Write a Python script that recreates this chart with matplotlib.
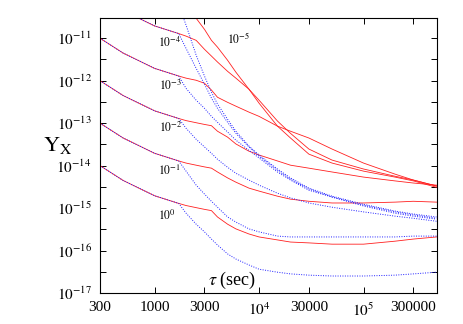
import numpy as np
from matplotlib import pyplot as plt
from matplotlib.ticker import FixedLocator, FixedFormatter, NullFormatter

plt.rcParams['font.family'] = ['Liberation Serif', 'DejaVu Serif']
plt.rcParams['mathtext.fontset'] = 'stix'

# averaging time (sec)
tau = np.array([300, 500, 1000, 1700, 2000, 2500, 3000, 3500, 4000, 5000, 6000, 8000,
                1e4, 1.5e4, 2e4, 3e4, 5e4, 1e5, 2e5, 3e5, 5e5])

# log10 of Y_x, one array per parameter value
red_0 = [-14.00, -14.35, -14.71, -14.89, -14.94, -14.99, -15.03, -15.06, -15.21, -15.38, -15.49, -15.61,
         -15.68, -15.75, -15.80, -15.82, -15.85, -15.85, -15.78, -15.73, -15.68]
blue_0 = [-14.00, -14.35, -14.71, -14.89, -15.12, -15.38, -15.56, -15.73, -15.87, -16.08, -16.20, -16.34,
          -16.44, -16.51, -16.55, -16.58, -16.60, -16.60, -16.58, -16.55, -16.51]
red_1 = [-13.00, -13.35, -13.71, -13.89, -13.94, -13.99, -14.03, -14.06, -14.15, -14.29, -14.39, -14.53,
         -14.60, -14.72, -14.79, -14.84, -14.88, -14.88, -14.86, -14.84, -14.86]
blue_1 = [-13.00, -13.35, -13.71, -13.89, -14.13, -14.46, -14.67, -14.84, -14.98, -15.21, -15.33, -15.49,
          -15.56, -15.66, -15.68, -15.68, -15.68, -15.68, -15.68, -15.66, -15.66]
red_2 = [-12.00, -12.35, -12.71, -12.89, -12.94, -12.99, -13.03, -13.06, -13.19, -13.33, -13.49, -13.66,
         -13.75, -13.89, -13.99, -14.06, -14.15, -14.27, -14.36, -14.41, -14.46]
blue_2 = [-12.00, -12.35, -12.71, -12.89, -13.12, -13.38, -13.56, -13.71, -13.85, -14.04, -14.18, -14.34,
          -14.46, -14.65, -14.76, -14.88, -14.98, -15.09, -15.19, -15.24, -15.31]
red_3 = [-11.00, -11.35, -11.71, -11.89, -11.94, -11.99, -12.06, -12.22, -12.39, -12.51, -12.60, -12.74,
         -12.84, -13.07, -13.19, -13.35, -13.61, -13.94, -14.20, -14.34, -14.48]
blue_3 = [-11.00, -11.35, -11.71, -11.89, -12.18, -12.46, -12.65, -12.84, -12.98, -13.21, -13.40, -13.64,
          -13.82, -14.15, -14.34, -14.58, -14.74, -14.95, -15.12, -15.19, -15.26]
red_4 = [-10.00, -10.35, -10.71, -10.89, -10.95, -11.05, -11.26, -11.42, -11.56, -11.78, -11.94, -12.20,
         -12.46, -12.95, -13.24, -13.61, -13.87, -14.08, -14.25, -14.34, -14.48]
blue_4 = [-10.00, -10.35, -10.71, -10.89, -11.24, -11.71, -12.08, -12.41, -12.65, -12.98, -13.24, -13.56,
          -13.78, -14.11, -14.32, -14.55, -14.74, -14.93, -15.09, -15.16, -15.24]
red_5 = [-9.00, -9.35, -9.71, -9.89, -10.22, -10.53, -10.79, -11.05, -11.21, -11.52, -11.80, -12.20,
         -12.53, -13.07, -13.35, -13.73, -13.94, -14.13, -14.27, -14.36, -14.51]
blue_5 = [-9.00, -9.35, -9.71, -10.22, -10.69, -11.40, -11.89, -12.27, -12.55, -12.91, -13.19, -13.54,
          -13.75, -14.08, -14.29, -14.53, -14.72, -14.91, -15.07, -15.14, -15.21]

reds = [red_0, red_1, red_2, red_3, red_4, red_5]
blues = [blue_0, blue_1, blue_2, blue_3, blue_4, blue_5]
labels = [r'$10^{0}$', r'$10^{-1}$', r'$10^{-2}$', r'$10^{-3}$', r'$10^{-4}$', r'$10^{-5}$']
label_pos = [(0.200, 0.280), (0.206, 0.444), (0.209, 0.600), (0.209, 0.753), (0.206, 0.909), (0.412, 0.924)]

xticks = [300, 1000, 3000, 1e4, 3e4, 1e5, 3e5]
xticklabels = ['300', '1000', '3000', r'$10^{4}$', '30000', r'$10^{5}$', '300000']
yticks = [1e-17, 1e-16, 1e-15, 1e-14, 1e-13, 1e-12, 1e-11]
yticklabels = [r'$10^{-17}$', r'$10^{-16}$', r'$10^{-15}$', r'$10^{-14}$', r'$10^{-13}$', r'$10^{-12}$', r'$10^{-11}$']

fig = plt.figure(figsize=(4.63, 3.24), dpi=100)
ax = fig.add_axes([0.216, 0.0957, 0.7268, 0.8488])

for r, b in zip(reds, blues):
    ax.plot(tau, 10.0 ** np.array(r), c='#ff2020', lw=0.6)
    ax.plot(tau, 10.0 ** np.array(b), c='#2020ff', lw=0.7, ls=(0, (1, 1.5)))

for lab, (px, py) in zip(labels, label_pos):
    ax.text(px, py, lab, transform=ax.transAxes, ha='center', va='center', fontsize=8.5)

ax.set_xscale('log')
ax.set_yscale('log')
ax.set_xlim(300, 5e5)
ax.set_ylim(1e-17, 3e-11)

ax.xaxis.set_major_locator(FixedLocator(xticks))
ax.xaxis.set_major_formatter(FixedFormatter(xticklabels))
ax.xaxis.set_minor_locator(FixedLocator([]))
ax.yaxis.set_major_locator(FixedLocator(yticks))
ax.yaxis.set_major_formatter(FixedFormatter(yticklabels))
ax.yaxis.set_minor_locator(FixedLocator([10.0 ** (e + 0.5) for e in range(-17, -10)]))
ax.yaxis.set_minor_formatter(NullFormatter())
ax.tick_params(which='both', direction='in', top=True, right=True, length=4, width=0.7,
               labelsize=11, pad=6)
for s in ax.spines.values():
    s.set_linewidth(0.8)

ax.text(0.392, 0.045, r'$\tau$' + ' (sec)', transform=ax.transAxes, ha='center', va='center', fontsize=13)
fig.text(58 / 463, 1 - 145 / 324, r'$\mathrm{Y}_{\mathrm{X}}$', ha='center', va='center', fontsize=16)

fig.savefig('out.png', dpi=100)
